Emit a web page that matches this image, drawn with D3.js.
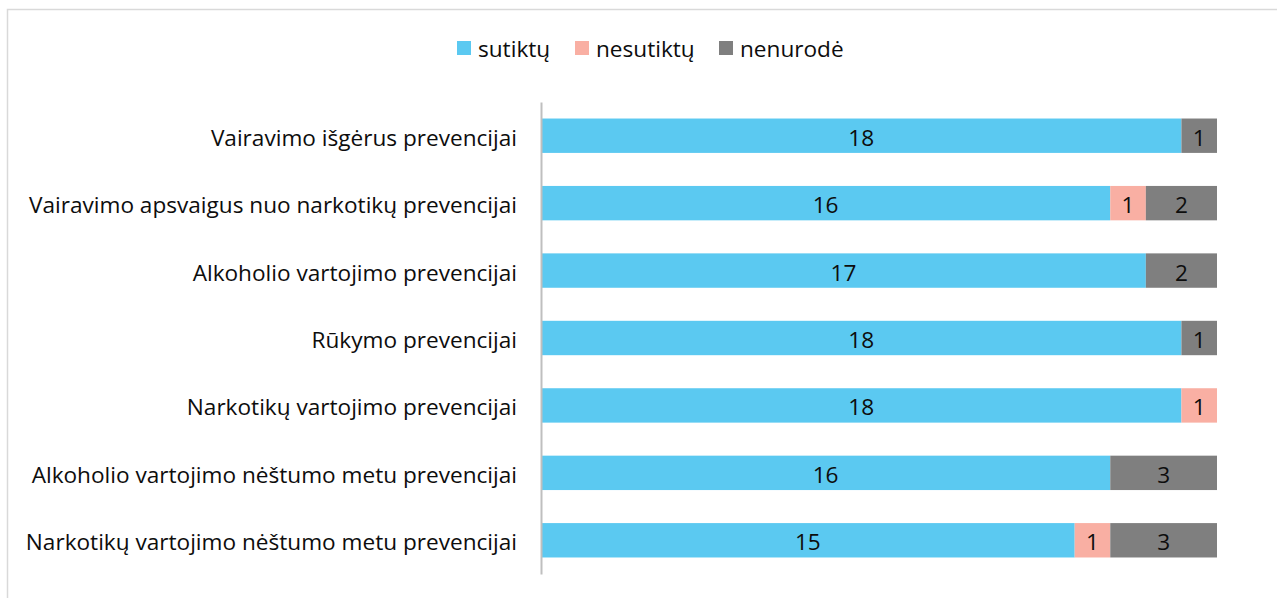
<!DOCTYPE html>
<html>
<head>
<meta charset="utf-8">
<script src="https://cdn.jsdelivr.net/npm/d3@7"></script>
<style>
  body { margin: 0; background: #fff; }
  svg { display: block; font-family: "Open Sans", "Noto Sans", sans-serif; }
</style>
</head>
<body>
<div id="chart"></div>
<script>
// Données
const categories = [
  "Vairavimo išgėrus prevencijai",
  "Vairavimo apsvaigus nuo narkotikų prevencijai",
  "Alkoholio vartojimo prevencijai",
  "Rūkymo prevencijai",
  "Narkotikų vartojimo prevencijai",
  "Alkoholio vartojimo nėštumo metu prevencijai",
  "Narkotikų vartojimo nėštumo metu prevencijai"
];
const sutikty = [18, 16, 17, 18, 18, 16, 15];
const nesutikty = [0, 1, 0, 0, 1, 0, 1];
const nenurode = [1, 2, 2, 1, 0, 3, 3];
const seriesNames = ["sutiktų", "nesutiktų", "nenurodė"];
const colors = ["#5BC9F1", "#F9AFA3", "#7F7F7F"];

const width = 1277;
const height = 598;
const fontSize = 22.6;

const svg = d3.select("#chart")
  .append("svg")
  .attr("width", width)
  .attr("height", height);

// cadre
svg.append("rect")
  .attr("x", 7.5)
  .attr("y", 9.5)
  .attr("width", width)
  .attr("height", height)
  .attr("fill", "none")
  .attr("stroke", "#d9d9d9")
  .attr("stroke-width", 1.5);

const tidyData = categories.map((c, i) => ({
  cat: c,
  "sutiktų": sutikty[i],
  "nesutiktų": nesutikty[i],
  "nenurodė": nenurode[i]
}));

const stack = d3.stack().keys(seriesNames)(tidyData);

// échelles
const scaleX = d3.scaleLinear()
  .domain([0, 19])
  .range([541, 1217]);

const scaleY = d3.scaleBand()
  .domain(categories)
  .range([102, 574])
  .paddingInner(0.49)
  .paddingOuter(0.245);

// barres
const groups = svg.append("g")
  .selectAll("g")
  .data(stack)
  .join("g")
  .attr("fill", (d, i) => colors[i]);

groups.selectAll("rect")
  .data(d => d)
  .join("rect")
  .attr("x", d => scaleX(d[0]))
  .attr("y", d => scaleY(d.data.cat))
  .attr("width", d => scaleX(d[1]) - scaleX(d[0]))
  .attr("height", scaleY.bandwidth());

// étiquettes de valeurs
groups.selectAll("text")
  .data(d => d.filter(v => v[1] - v[0] > 0))
  .join("text")
  .attr("x", d => (scaleX(d[0]) + scaleX(d[1])) / 2)
  .attr("y", d => scaleY(d.data.cat) + scaleY.bandwidth() / 2)
  .attr("dy", "0.44em")
  .attr("text-anchor", "middle")
  .attr("fill", "#0d0d0d")
  .attr("font-size", fontSize)
  .text(d => d[1] - d[0]);

// axe Y
const yAxis = svg.append("g")
  .attr("transform", `translate(${scaleX(0)}, 0)`)
  .call(d3.axisLeft(scaleY).tickSize(0).tickPadding(24))
  .call(g => g.select(".domain").attr("stroke", "#bfbfbf").attr("stroke-width", 2));

yAxis.selectAll("text")
  .attr("font-size", fontSize)
  .attr("font-family", "\"Open Sans\", \"Noto Sans\", sans-serif")
  .attr("fill", "#0d0d0d")
  .attr("dy", "0.44em");

// légende
const legendX = [457, 575, 719];
const legend = svg.append("g")
  .selectAll("g")
  .data(seriesNames)
  .join("g")
  .attr("transform", (d, i) => `translate(${legendX[i]}, 41)`);

legend.append("rect")
  .attr("width", 14)
  .attr("height", 14)
  .attr("fill", (d, i) => colors[i]);

legend.append("text")
  .attr("x", 21)
  .attr("y", 7)
  .attr("dy", "0.4em")
  .attr("font-size", fontSize)
  .attr("fill", "#0d0d0d")
  .text(d => d);
</script>
</body>
</html>
